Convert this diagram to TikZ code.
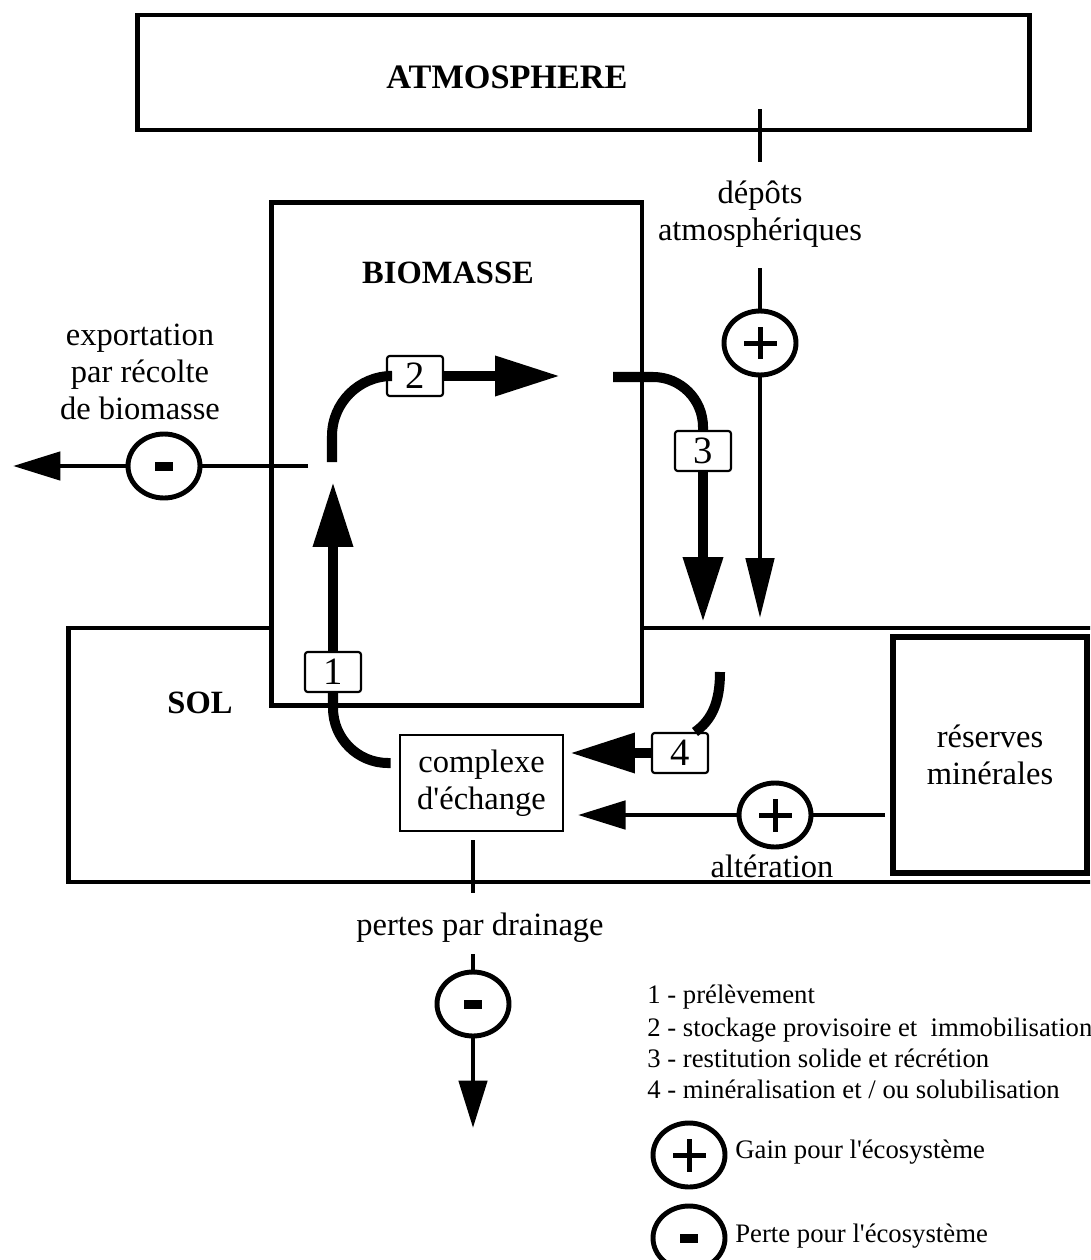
\documentclass[tikz,border=0pt]{standalone}
\usepackage{fontspec}
\setmainfont{Liberation Serif}[Ligatures=TeXOff]
\usetikzlibrary{arrows.meta,shapes.geometric,positioning}

\begin{document}
\begin{tikzpicture}[x=0.02cm, y=-0.02cm,
    zone/.style={draw, line width=2.8pt, inner sep=0pt},
    titre/.style={font=\fontsize{18.5}{22}\selectfont\bfseries, inner sep=0pt},
    txt/.style={font=\fontsize{18.5}{21}\selectfont, align=center, inner sep=0pt},
    numbox/.style={draw, fill=white, line width=1.2pt, rounded corners=1.5pt,
        minimum width=1.12cm, minimum height=0.8cm, inner sep=0pt,
        font=\fontsize{22}{24}\selectfont},
    flux/.style={line width=5.7pt},
    fin/.style={line width=2.8pt},
    bigtip/.style={-{Triangle[length=1.3cm,width=0.76cm]}},
    smalltip/.style={-{Triangle[length=0.95cm,width=0.56cm]}},
    signe/.style={draw, fill=white, ellipse, line width=2.8pt,
        minimum width=1.44cm, minimum height=1.28cm, inner sep=0pt},
    gain/.style={signe, path picture={
        \fill[black] ([xshift=-0.33cm,yshift=-0.05cm]path picture bounding box.center) rectangle ++(0.66cm,0.1cm);
        \fill[black] ([xshift=-0.05cm,yshift=-0.33cm]path picture bounding box.center) rectangle ++(0.1cm,0.66cm);}},
    perte/.style={signe, path picture={
        \fill[black] ([xshift=-0.18cm,yshift=-0.09cm]path picture bounding box.center) rectangle ++(0.36cm,0.18cm);}},
    legende/.style={font=\fontsize{15.2}{18}\selectfont, anchor=base west, inner sep=0pt}]

    \clip (0,0) rectangle (1090,1260);
    \fill[white] (0,0) rectangle (1090,1260);

    % compartments
    \node[zone, minimum width=20.84cm, minimum height=5.08cm] (sol) at (589,755) {};
    \node[zone, fill=white, minimum width=7.42cm, minimum height=10.08cm] (bio) at (456.5,454) {};
    \node[zone, minimum width=17.86cm, minimum height=2.3cm] (atm) at (583.5,72.5) {};
    \node[zone, line width=3pt, minimum width=3.88cm, minimum height=4.72cm, txt] (res) at (990,755) {réserves\\minérales};
    \node[draw, line width=1.5pt, minimum width=3.26cm, minimum height=1.92cm, txt] (cplx) at (481.5,783) {complexe\\d'échange};

    \node[titre, font=\fontsize{19.5}{22}\selectfont\bfseries] at (507,77) {ATMOSPHERE};
    \node[titre] at (448,273) {BIOMASSE};
    \node[titre] at (200,703) {SOL};

    % numbered fluxes
    \node[numbox] (n1) at (333,672) {1};
    \node[numbox] (n2) at (415,376) {2};
    \node[numbox] (n3) at (703,451) {3};
    \node[numbox] (n4) at (680,753) {4};

    \draw[flux, rounded corners=1.1cm] ([yshift=0.4cm,xshift=-0.16cm]cplx.west) -| (n1.south);
    \coordinate (u1) at (333,482);
    \draw[flux, bigtip] (n1.north) -- (u1);

    \coordinate (s0) at (332,462);
    \coordinate (s1) at (560,376);
    \draw[flux, rounded corners=1.2cm] (s0) |- (n2.west);
    \draw[flux, bigtip] (n2.east) -- (s1);

    \coordinate (r0) at (613,377);
    \coordinate (r1) at (703,622);
    \draw[flux, rounded corners=1cm] (r0) -| (n3.north);
    \draw[flux, bigtip] (n3.south) -- (r1);

    \coordinate (m0) at (720,672);
    \coordinate (m1) at (570,753);
    \draw[flux] (m0) .. controls (720,702) and (712,720) .. ([xshift=0.3cm]n4.north);
    \draw[flux, bigtip] (n4.west) -- (m1);

    % inputs and outputs
    \node[txt] (depots) at (760,214) {dépôts\\atmosphériques};
    \node[gain] (gA) at (760,343) {};
    \coordinate (d1) at (760,618);
    \draw[fin] (atm.south -| gA) ++(0,-23) -- ++(0,53);
    \draw[fin] (gA.north) -- ++(0,-41);
    \draw[fin, -{Triangle[length=1.2cm,width=0.56cm]}] (gA) -- (d1);

    \node[txt] (export) at (140,372) {exportation\\par récolte\\de biomasse};
    \node[perte] (pA) at (164,466) {};
    \coordinate (e0) at (308,466);
    \coordinate (e1) at (13,466);
    \draw[fin] (e0) -- (pA);
    \draw[fin, smalltip] (pA) -- (e1);

    \node[gain] (gB) at (775,815) {};
    \node[txt] (alter) at (772,866) {altération};
    \coordinate (a0) at (885,815);
    \coordinate (a1) at (578,815);
    \draw[fin] (a0) -- (gB);
    \draw[fin, smalltip] (gB) -- (a1);

    \node[txt] (drain) at (480,928) {pertes par drainage};
    \node[perte] (pB) at (473,1004) {};
    \coordinate (p0) at (473,840);
    \coordinate (p1) at (473,1128);
    \draw[fin] (p0) -- ++(0,53);
    \draw[fin] (pB.north) -- ++(0,-16);
    \draw[fin, smalltip] (pB) -- (p1);

    % legend
    \node[legende] at (647,1003) {1 - prélèvement};
    \node[legende] at (647,1036) {2 - stockage provisoire et \ immobilisation};
    \node[legende] at (647,1067) {3 - restitution solide et récrétion};
    \node[legende] at (647,1098) {4 - minéralisation et / ou solubilisation};
    \node[gain] (gC) at (689,1155) {};
    \node[legende] at (735,1158) {Gain pour l'écosystème};
    \node[perte] (pC) at (689,1238) {};
    \node[legende] at (735,1242) {Perte pour l'écosystème};
\end{tikzpicture}
\end{document}
